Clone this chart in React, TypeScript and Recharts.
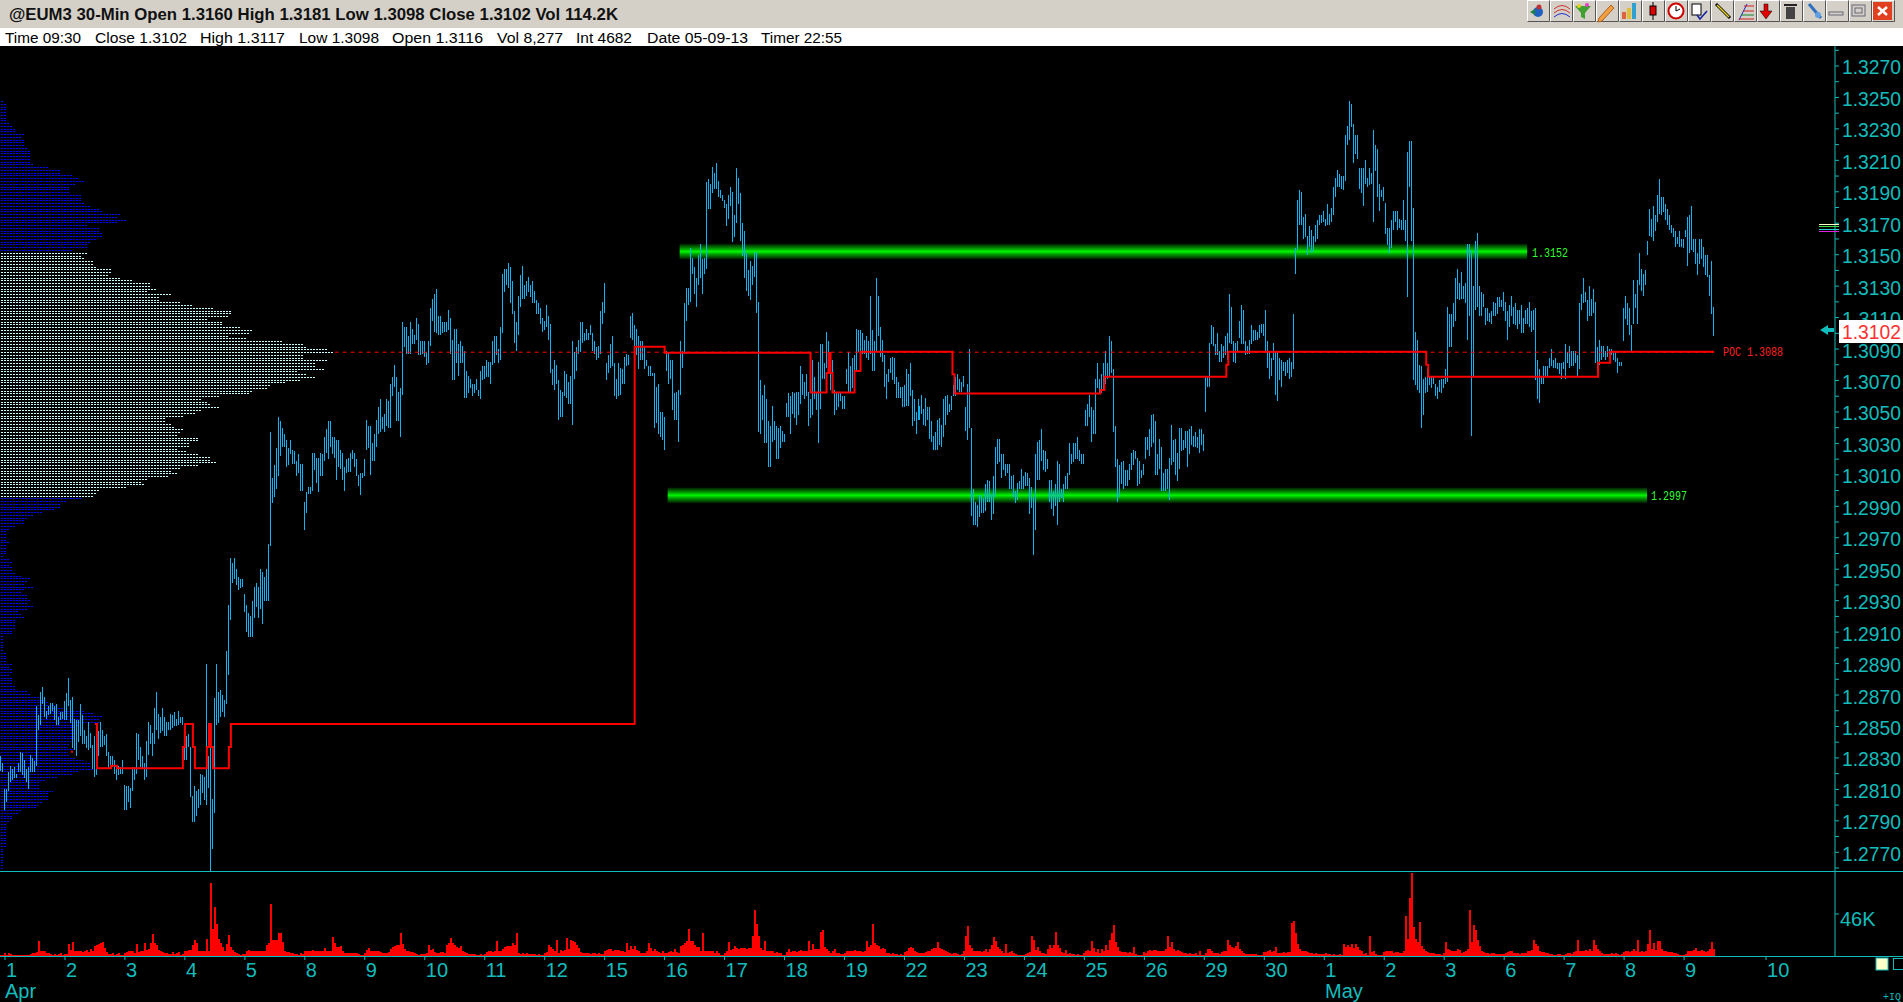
import React from 'react';
import { ComposedChart, BarChart, Bar, Line, XAxis, YAxis, ReferenceArea, ReferenceLine } from 'recharts';

// Prices are in pips above 1.0000 (3102 = 1.3102). Each segment alternates high, low per 30-min bar.
const priceSegA = [2831,2822,2827,2821,2810,2797,2810,2802,2821,2809,2825,2815,2823,2816,2824,2817,2820,2817,2827,2821,2834,2821,2833,2819,2829,2817,2823,2815,2824,2810,2832,2821,2830,2821,2828,2821,2863,2825,2857,2848,2872,2851,2875,2864,2869,2856,2860,2855,2863,2857,2865,2858,2865,2860,2863,2854,2864,2851,2856,2851,2859,2854,2859,2855,2866,2854,2871,2854,2881,2863,2867,2852,2869,2836,2855,2835,2854,2831,2854,2840,2864,2844,2857,2839,2848,2839,2844,2836,2853,2835,2846,2836,2838,2823,2844,2818,2839,2819,2847,2831,2853,2837,2848,2837,2844,2838,2845,2831,2834,2823,2831,2824,2831,2824,2829,2820,2825,2816,2825,2819,2824,2820,2829,2820,2813,2797,2812,2797,2812,2802,2811,2798,2824,2809,2824,2816,2846,2820,2845,2829,2837,2824,2831,2823,2827,2816,2841,2818,2853,2832,2851,2839,2846,2831,2862,2839,2872,2848,2858,2842,2856,2846,2862,2847,2856,2844,2853,2844,2853,2848,2858,2848,2857,2849,2859,2850,2855,2850,2860,2851,2856,2852,2856,2851,2846,2829,2844,2829,2845,2837,2837,2805,2806,2789,2812,2789,2809,2793,2810,2798,2820,2800,2819,2808,2818,2803,2890,2800,2831,2811,2844,2758,2804,2772,2868,2795,2890,2851,2872,2852,2873,2856,2870,2859,2867,2856,2898,2864,2927,2883,2957,2918,2954,2941,2957,2944,2950,2940,2945,2937,2944,2938,2944,2939,2934,2923,2927,2910,2922,2907,2920,2907,2930,2907,2939,2919,2941,2926,2939,2919];
const priceSegB = [2950,2925,2948,2915,2945,2930,2950,2930,2966,2930,3037,2965,3008,2992,3016,2996,3027,3001,3047,3009,3044,3022,3040,3028,3036,3028,3032,3015,3027,3016,3032,3023,3026,3017,3025,3017,3019,3009,3023,3011,3017,3000,3017,3000,2993,2975,2999,2986,3002,2998,3002,2998,3024,3000,3024,3013,3021,3005,3021,2999,3024,3009,3023,3009,3034,3019,3039,3024,3044,3020,3044,3028,3034,3023,3034,3021,3032,3007,3032,3015,3026,3014,3024,3007,3015,3000,3020,3011,3021,3012,3024,3012,3026,3020,3024,3015,3020,3009,3010,3003,3011,2997,3011,3008,3020,3009,3045,3026,3041,3027,3041,3010,3030,3019,3036,3019,3045,3028,3053,3036,3058,3037,3047,3039,3049,3037,3058,3041,3057,3040,3068,3040,3072,3060,3080,3066,3072,3044,3063,3044,3065,3034,3107,3061,3104,3091,3104,3087,3098,3087,3107,3087,3103,3093,3099,3093,3110,3096,3106,3086,3095,3086,3095,3087,3095,3085,3088,3080,3095,3081,3116,3092,3122,3108,3125,3101,3128,3100,3111,3099,3111,3099,3107,3100,3107,3101,3107,3101,3115,3102,3110,3087,3096,3070,3103,3070,3103,3081,3093,3073,3095,3081,3092,3081,3089,3059,3076,3059,3073,3062,3071,3065,3068,3060,3068,3062,3071,3064,3064,3060,3076,3058,3079,3070,3079,3071,3083,3072,3082,3072,3082,3068,3095,3080,3098,3081,3098,3086,3090,3081,3104,3083,3138,3100,3141,3126,3141,3131,3145,3129,3142,3119,3133,3112,3114,3094,3107,3089,3124,3099,3137,3117,3143,3122,3131,3122,3133,3124,3136,3126,3131,3123,3133,3119,3127,3119,3121,3112,3119,3112,3116,3106,3110,3101,3108,3102,3118,3104,3111,3096,3106,3075,3077,3067,3083,3064,3080,3068,3070,3045,3064,3047,3063,3047,3076,3060,3074,3059,3069,3055,3073,3055,3095,3042,3088,3071,3091,3076,3096,3087,3107,3088,3107,3094,3100,3095,3103,3096,3100,3096,3105,3099,3100,3089,3095,3087,3091,3083,3092,3084,3114,3087,3120,3106,3132,3113,3081,3070,3086,3075,3093,3078,3098,3079,3081,3060,3071,3058,3081,3060,3078,3061,3077,3068,3085,3068,3087,3079,3086,3080,3111,3097,3113,3096,3105,3084,3103,3086,3098,3077,3095,3083,3095,3083,3091,3077,3083,3079,3079,3073,3079,3073,3075,3073,3075,3040,3066,3043,3068,3036,3050,3034];
const priceSegC = [3050,3032,3047,3026,3089,3076,3088,3068,3083,3071,3083,3051,3062,3045,3063,3045,3064,3031,3095,3061,3089,3078,3119,3087,3129,3108,3129,3118,3154,3120,3148,3138,3142,3125,3135,3117,3150,3131,3157,3135,3147,3125,3148,3138,3196,3141,3198,3179,3195,3179,3206,3189,3202,3192,3208,3192,3197,3187,3191,3186,3188,3184,3185,3180,3182,3168,3188,3173,3193,3181,3190,3158,3175,3161,3205,3170,3199,3182,3189,3159,3170,3149,3165,3135,3151,3127,3140,3124,3146,3121,3143,3131,3152,3136,3151,3113,3120,3037,3070,3036,3061,3045,3067,3030,3058,3030,3044,3015,3041,3015,3054,3031,3044,3032,3041,3020,3040,3020,3041,3027,3038,3031,3036,3031,3056,3047,3062,3047,3060,3036,3063,3049,3062,3046,3063,3042,3063,3048,3079,3055,3074,3061,3069,3058,3074,3060,3063,3041,3058,3046,3083,3048,3072,3058,3063,3051,3082,3030,3093,3052,3093,3071,3081,3071,3101,3078,3095,3075,3087,3064,3083,3069,3064,3048,3062,3051,3062,3053,3063,3057,3060,3052,3060,3052,3077,3068,3088,3063,3079,3063,3084,3065,3086,3068,3103,3076,3102,3088,3102,3088,3100,3087,3096,3087,3098,3084,3095,3083,3124,3087,3102,3076,3095,3076,3135,3088,3124,3098,3104,3085,3096,3082,3086,3066,3074,3058,3077,3069,3084,3075,3085,3070,3084,3068,3072,3059,3069,3059,3066,3059,3066,3053,3067,3053,3077,3054,3074,3054,3081,3060,3064,3041,3058,3044,3050,3036,3058,3045,3054,3045,3061,3049,3052,3042,3059,3041,3053,3045,3053,3033,3044,3031,3035,3026,3037,3026,3045,3026,3046,3029,3042,3028,3058,3034,3060,3042,3061,3048,3055,3050,3060,3051,3067,3060,3072,3060,3074,3064,3071,3063,3069,3063,3073,3066,3053,3038,3068,3032,3090,3040];
const priceSegD = [3040,2984,3001,2978,2993,2978,2991,2977,2997,2983,2997,2986,2995,2986,3004,2987,3007,2993,3006,2993,2998,2981,3009,2985,3028,2996,3033,3017,3033,3018,3023,3008,3023,3013,3017,3009,3017,3011,3017,3001,3009,3001,3010,2996,3000,2992,3005,2994,3006,3001,3014,3001,3009,3001,3012,3003,3011,3003,3008,2985,3002,2989,2996,2959,3023,2975,3031,3007,3032,3007,3039,3019,3026,3013,3025,3012,3020,3014,3007,2993,3007,2988,3000,2984,3004,2990,3019,2978,3017,2993,3001,2995,3004,2993,3009,3001,3011,3001,3030,3010,3023,3017,3030,3018,3030,3020,3034,3020,3026,3019,3023,3017,3023,3017,3051,3041,3055,3041,3061,3047,3053,3031,3051,3036,3071,3036,3081,3065,3071,3062,3074,3062,3081,3064,3089,3068,3081,3071,3098,3072,3095,3075,3077,3037,3041,3015,3020,2993,3016,2996,3018,3004,3019,3001,3013,3003,3013,3003,3017,3007,3024,3013,3026,3016,3025,3020,3021,3003,3019,3004,3013,3008,3017,3010,3034,3020,3034,3026,3039,3022,3048,3028,3049,3030,3044,3010,3023,3010,3033,3014,3028,3000,3011,3000,3014,3000,3014,3001,3021,2994,3042,3016,3032,3018,3033,3010,3024,3006,3040,3014,3040,3025,3032,3026,3038,3027,3038,3015,3039,3023,3041,3029,3035,3028,3037,3028,3034,3027,3039,3024,3039,3029,3036,3025,3073,3050,3073,3066,3094,3066,3105,3093,3104,3092,3093,3086,3100,3086,3089,3082,3093,3082,3092,3084,3098,3086,3100,3083,3125,3094,3117,3093,3095,3082,3094,3081,3095,3088,3108,3097,3118,3093,3115,3093,3095,3086,3092,3087,3096,3087,3105,3093,3102,3095,3102,3096,3101,3096,3105,3097,3106,3100,3106,3098,3115,3088,3095,3078,3089,3071,3084,3073,3094,3083,3088,3061,3088,3057,3084,3070,3083,3066,3082,3076,3082,3073,3083,3075,3084,3071,3082,3072,3112,3077];
const priceSegE = [3154,3138,3185,3153,3191,3169,3190,3169,3174,3160,3176,3161,3162,3150,3168,3155,3166,3151,3162,3152,3169,3158,3172,3160,3175,3169,3175,3170,3178,3171,3173,3168,3182,3169,3176,3169,3180,3171,3193,3175,3199,3187,3204,3193,3201,3193,3200,3192,3200,3191,3226,3197,3232,3220,3248,3223,3246,3231,3233,3208,3226,3214,3226,3211,3205,3192,3205,3189,3205,3181,3210,3195,3199,3193,3205,3194,3202,3195,3229,3171,3220,3203,3217,3187,3195,3178,3191,3187,3193,3184,3183,3163,3167,3156,3167,3151,3172,3154,3178,3166,3178,3171,3178,3166,3173,3167,3172,3166,3185,3166,3172,3159,3215,3123,3222,3193,3222,3159,3180,3070,3101,3067,3096,3064,3080,3062,3079,3040,3071,3048,3072,3062,3077,3063,3072,3067,3072,3065,3073,3068,3068,3060,3066,3058,3070,3063,3071,3062,3071,3065,3077,3068,3117,3069,3112,3091,3112,3091,3119,3104,3135,3108,3141,3122,3132,3121,3139,3122,3130,3122,3132,3119,3157,3096,3157,3111,3153,3035,3130,3072,3159,3115,3164,3117,3130,3111,3126,3111,3125,3117,3116,3105,3116,3108,3113,3107,3114,3106,3120,3111,3119,3111,3123,3112,3123,3117,3121,3117,3126,3114,3120,3108,3114,3096,3118,3104,3124,3111,3117,3106,3119,3105,3115,3103,3115,3106,3118,3100,3110,3100,3115,3106,3116,3106,3120,3104,3114,3101,3115,3102,3116,3070,3083,3058,3077,3056,3073,3068,3079,3068,3079,3072,3079,3072,3084,3078,3090,3079,3083,3078,3084,3078,3081,3077,3081,3074,3081,3071,3082,3077,3093,3071,3088,3081,3092,3078,3089,3079,3089,3079,3089,3081,3086,3072,3119,3077,3125,3115,3135,3119,3126,3120,3121,3108,3130,3111,3122,3111,3128,3113,3120,3081,3091,3075,3096,3080,3092,3083,3092,3085,3089,3083,3092,3085,3090,3087,3090,3086,3088,3083,3089,3082,3084,3075,3082,3079,3082,3079,3116,3095,3124,3109,3119,3105,3116,3099,3105,3089,3134,3106,3125,3116,3134,3106,3151,3131,3141,3127,3138,3124,3140,3131,3159,3150,3179,3162,3173,3161,3181,3159,3175,3165,3188,3171,3198,3176,3187,3175,3187,3177,3182,3172,3179,3169,3175,3166,3169,3164,3167,3161,3165,3155,3161,3157];
const priceSegF = [3165,3155,3160,3155,3160,3154,3166,3161,3174,3143,3175,3151,3181,3153,3160,3152,3160,3144,3151,3137,3160,3144,3160,3147,3155,3142,3150,3137,3150,3136,3137,3124,3146,3112,3117,3098];

// Developing point of control: bar index where a level starts, and that level.
const pocStarts = [35,37,47,48,55,58,91,92,96,97,103,104,105,106,114,115,317,332,405,413,414,415,416,427,430,476,477,550,552,613,614,713,714,799,805,858];
const pocLevels = [2834,NaN,2851.5,2823.5,2825,2823.5,2837,2851.5,2837,2823.5,2837,2851.5,2837,2823.5,2837,2851.5,3091.5,3087.7,3062.3,3074.7,3087.5,3074.7,3062.3,3076,3088.3,3074,3061.8,3064,3072.4,3080,3088.3,3080,3072.4,3081.3,3088.3,NaN];

// Volume, thousands of contracts, per session
const volStart = [1,1];
const volApr01 = [3,1,3,2,1,1,1,1,1,1,1,1,1,2,3,3,4,16,5,6,5,3,3,2,1,2,1,2,3,1];
const volApr02 = [2,2,13,7,15,6,6,5,6,4,5,7,4,8,6,11,12,13,14,15,9,4,2,2,3,1,2,3,1,1];
const volApr03 = [3,4,5,6,5,3,13,4,5,6,14,7,8,14,24,14,12,7,5,4,3,3,2,2,4,2,3,4,1,2];
const volApr04 = [6,6,7,7,12,17,14,6,5,6,5,19,6,80,30,54,35,19,14,10,6,13,23,10,7,4,3,2,1,2];
const volApr05 = [2,5,7,6,6,6,6,6,6,6,6,12,14,57,18,17,17,25,25,15,6,4,4,3,3,2,2,1,3,2];
const volApr08 = [5,6,6,6,7,5,6,5,6,6,9,5,5,5,21,14,10,10,11,5,3,3,3,3,3,3,3,2,1,1];
const volApr09 = [3,7,9,6,5,5,6,5,4,3,3,3,4,8,10,11,12,12,25,13,8,6,5,4,4,3,2,1,2,2];
const volApr10 = [2,3,12,7,8,4,3,3,4,4,3,12,14,20,14,12,10,9,11,6,4,3,2,2,2,2,1,1,2,1];
const volApr11 = [2,4,6,5,4,6,16,6,5,8,10,11,11,11,14,12,25,3,2,3,2,3,2,2,2,2,1,2,1,1];
const volApr12 = [3,4,12,10,8,5,17,3,7,5,7,20,8,17,16,15,12,9,4,3,3,3,3,2,3,3,2,3,2,2];
const volApr15 = [5,7,8,8,6,7,7,7,6,5,4,14,7,11,8,11,7,5,3,3,3,5,14,9,6,8,6,4,3,5];
const volApr16 = [3,3,4,5,4,8,4,3,11,12,14,16,29,16,16,12,10,10,6,25,5,6,5,6,5,3,5,3,1,1];
const volApr17 = [3,5,15,7,8,11,9,8,9,9,9,8,9,9,22,50,35,22,9,7,16,6,5,5,5,3,4,3,3,1];
const volApr18 = [1,4,8,4,5,5,4,5,7,5,6,5,16,7,13,8,8,8,26,28,10,8,5,3,6,8,3,3,2,2];
const volApr19 = [3,5,6,5,6,7,6,5,5,4,6,16,10,12,35,14,12,11,8,9,8,3,3,2,3,2,2,1,2,1];
const volApr22 = [4,5,9,10,9,6,4,3,3,3,3,4,5,5,8,9,9,15,9,8,7,6,4,3,2,3,3,2,1,2];
const volApr23 = [5,22,33,12,9,6,5,5,5,4,6,8,4,8,12,21,16,10,8,6,3,13,3,4,6,3,2,1,1,1];
const volApr24 = [1,2,3,4,22,18,7,10,6,3,3,2,8,12,9,12,26,12,9,4,3,7,2,3,2,2,1,2,1,1];
const volApr25 = [3,5,7,6,16,9,4,8,3,8,6,12,7,18,25,34,15,10,6,4,4,4,3,4,3,10,2,1,1,1];
const volApr26 = [4,3,5,7,6,7,7,6,6,5,5,8,22,10,15,8,6,7,5,4,3,3,2,3,2,2,3,1,5,1];
const volApr29 = [1,3,8,8,6,3,3,3,2,4,5,6,18,12,10,9,11,15,8,5,3,2,2,2,2,2,2,1,1,1];
const volApr30 = [4,4,6,7,4,6,10,3,3,3,4,3,4,4,36,38,25,13,8,6,5,6,4,3,3,2,3,2,2,2];
const volMay01 = [2,3,2,2,1,2,1,1,2,1,13,10,12,10,13,9,13,10,7,5,2,3,1,22,4,5,2,1,1,1];
const volMay02 = [4,5,5,6,6,3,4,4,3,3,5,44,19,63,91,32,19,15,37,11,8,6,4,3,3,3,2,2,2,1];
const volMay03 = [3,15,8,7,6,6,6,8,7,3,4,5,8,50,15,34,28,17,11,5,4,3,3,2,3,3,2,2,2,2];
const volMay06 = [2,3,4,5,5,3,3,3,2,3,3,3,6,5,7,18,13,11,5,4,4,3,3,2,2,1,1,2,2,1];
const volMay07 = [1,2,3,3,2,4,5,17,6,6,6,7,6,8,6,18,12,8,5,3,2,2,2,2,3,2,3,2,1,2];
const volMay08 = [4,5,5,4,5,8,5,17,4,6,4,6,13,28,8,14,7,16,16,8,6,5,4,4,4,3,3,2,1,1];
const volMay09 = [1,2,6,6,6,7,9,6,5,7,5,4,5,8,15,8];

// Market profile, top to bottom
const profileUpper = [3,6,6,6,6,6,6,6,9,12,15,15,24,21,24,24,24,27,30,30,30,30,30,33,48,60,60,72,78,84,75,69,69,69,81,81,81,84,90,99,102,120,117,126,117,87,99,99,102,102,96,90,87,87,72];
const profileValueArea = [87,81,84,93,93,96,111,111,108,120,132,150,150,156,147,171,159,159,180,192,213,231,231,228,207,222,222,240,252,249,228,246,282,303,306,327,333,303,303,327,315,315,324,297,306,315,300,285,270,267,252,249,219,201,207,210,219,201,195,183,165,165,171,174,183,180,177,198,198,189,189,177,186,198,210,210,216,198,180,171,177,168,147,141,144,126,99,96,93];
const profileLower = [81,66,60,60,54,42,33,27,24,24,15,9,6,6,6,6,9,6,6,6,6,3,9,12,9,12,12,15,21,30,27,24,33,24,21,27,27,30,27,33,27,18,21,24,15,15,15,15,12,12,3,3,3,3,3,3,6,6,6,6,12,9,12,12,9,12,12,12,15,15,27,30,39,45,48,57,63,84,93,102,98,99,77,73,73,75,75,73,70,68,67,73,67,68,75,82,90,90,93,78,72,57,45,39,39,39,52,48,48,48,42,37,36,20,18,12,12,9,6,6,6,6,6,6,6,6,6,3,3,3,3,3,3,3,3];

const majorTicks = [3270,3250,3230,3210,3190,3170,3150,3130,3110,3090,3070,3050,3030,3010,2990,2970,2950,2930,2910,2890,2870,2850,2830,2810,2790,2770];
const dayLabels = ['1','2','3','4','5','8','9','10','11','12','15','16','17','18','19','22','23','24','25','26','29','30','1','2','3','6','7','8','9'];
const monthLabels = [['Apr',5],['May',1325]] as const;
const greenLevels = [{ level: 3152, from: 340, to: 763 }, { level: 2997, from: 334, to: 823 }];
const titleText = '@EUM3 30-Min Open 1.3160 High 1.3181 Low 1.3098 Close 1.3102 Vol 114.2K';
const infoItems: [string, number, number][] = [['Time 09:30',5,76],['Close 1.3102',95,92],['High 1.3117',200,85],['Low 1.3098',299,80],['Open 1.3116',392,91],['Vol 8,277',497,66],['Int 4682',576,56],['Date 05-09-13',647,101],['Timer 22:55',761,81]];

const TEAL = '#12bcbc', SANS = '"Liberation Sans", Arial, sans-serif';
const hl = [...priceSegA, ...priceSegB, ...priceSegC, ...priceSegD, ...priceSegE, ...priceSegF];
const vols = [volStart,volApr01,volApr02,volApr03,volApr04,volApr05,volApr08,volApr09,volApr10,volApr11,volApr12,volApr15,volApr16,volApr17,volApr18,volApr19,volApr22,volApr23,volApr24,volApr25,volApr26,volApr29,volApr30,volMay01,volMay02,volMay03,volMay06,volMay07,volMay08,volMay09].flat();
const SLOTS = 918;
const pocAt = (i: number) => { let v: number | null = null; pocStarts.forEach((s, k) => { if (i >= s) v = Number.isNaN(pocLevels[k]) ? null : pocLevels[k]; }); return v; };
const rows = Array.from({ length: SLOTS }, (_, i) => ({
  idx: i,
  range: 2 * i + 1 < hl.length ? [hl[2 * i + 1], hl[2 * i]] : undefined,
  poc: pocAt(i),
  vol: i < vols.length ? vols[i] : undefined,
}));
const dayTickIdx = dayLabels.map((_, k) => 2 + 30 * k).concat(883);
const dayTickText: Record<number, string> = {};
dayLabels.forEach((d, k) => { dayTickText[2 + 30 * k] = d; });
dayTickText[883] = '10';

const profile = [
  ...profileUpper.map((v) => ({ v, area: false })),
  ...profileValueArea.map((v) => ({ v, area: true })),
  ...profileLower.map((v) => ({ v, area: false })),
].map((r, i) => ({ ...r, row: i }));
const rowH = (868 - 101) / (profile.length - 1);

const OHLCShape = (p: any) => p.height == null || !p.width ? null : <rect x={Math.round(p.x)} y={p.y} width={1} height={p.height} fill="#10b4f4" shapeRendering="crispEdges" />;
const VolShape = (p: any) => !p.height ? null : <rect x={Math.round(p.x)} y={p.y} width={2} height={p.height} fill="#ff0000" shapeRendering="crispEdges" />;
const ProfileShape = (p: any) => <line x1={p.x} x2={p.x + p.width} y1={p.y + 0.5} y2={p.y + 0.5} stroke={p.payload.area ? '#c8ffff' : '#0000ff'} strokeWidth={1} strokeDasharray="2 1" shapeRendering="crispEdges" />;

const PriceTick = (p: any) => {
  const major = majorTicks.includes(p.payload.value);
  return (
    <g>
      <line x1={p.x} x2={p.x + 4} y1={p.y} y2={p.y} stroke={TEAL} />
      {major && <text x={p.x + 7} y={p.y + 8.5} fontFamily={SANS} fontSize={20} fill={TEAL} textLength={59} lengthAdjust="spacingAndGlyphs">{(1 + p.payload.value / 10000).toFixed(4)}</text>}
    </g>
  );
};
const VolTick = (p: any) => (
  <g>
    <line x1={p.x} x2={p.x + 4} y1={p.y} y2={p.y} stroke={TEAL} />
    <text x={p.x + 5} y={p.y + 12} fontFamily={SANS} fontSize={20} fill={TEAL}>{p.payload.value}K</text>
  </g>
);
const DayTick = (p: any) => (
  <g>
    <line x1={p.x} x2={p.x} y1={p.y} y2={p.y + 4} stroke={TEAL} />
    <text x={p.x + 1} y={p.y + 21} fontFamily={SANS} fontSize={20} fill={TEAL}>{dayTickText[p.payload.value]}</text>
  </g>
);

const Toolbar = () => (
  <svg width={368} height={23} style={{ position: 'absolute', left: 1527, top: 0 }}>
    {Array.from({ length: 16 }, (_, k) => (
      <g key={k} transform={`translate(${k * 23},0)`}>
        <rect x={0} y={0} width={23} height={22} fill="#d4d0c8" />
        <path d="M0.5 21.5V0.5H22.5" stroke="#fff" fill="none" />
        <path d="M0.5 21.5H22.5V0.5" stroke="#555" fill="none" />
      </g>
    ))}
    <circle cx={11} cy={12} r={5} fill="#2060c0" /><path d="M3 12l5-3v6z" fill="#208040" /><circle cx={12} cy={7} r={2.5} fill="#c03030" />
    <path d="M27 9q8-7 16 0M27 13q8-7 16 0" stroke="#d03030" fill="none" /><path d="M27 17q8-7 16 0" stroke="#2030d0" fill="none" />
    <path d="M48 6h16l-6 7v6l-4-2v-4z" fill="#40a030" /><circle cx={52} cy={6} r={2} fill="#e0d020" /><circle cx={60} cy={5} r={2} fill="#e040c0" />
    <path d="M72 18l12-13 3 3-12 13-4 1z" fill="#f0a040" stroke="#b06020" />
    <rect x={95} y={12} width={4} height={7} fill="#e06040" /><rect x={100} y={8} width={4} height={11} fill="#e0c030" /><rect x={105} y={3} width={4} height={16} fill="#30a0d0" />
    <path d="M126 2v18" stroke="#000" /><rect x={123} y={6} width={6} height={9} fill="#e00000" stroke="#000" />
    <circle cx={149} cy={11} r={7.5} fill="#fff" stroke="#d00000" strokeWidth={2} /><path d="M149 11l4-2M149 11v-5" stroke="#000" />
    <rect x={165} y={4} width={9} height={11} fill="#fff" stroke="#000" /><path d="M170 15l3 4 7-8" stroke="#1020a0" fill="none" strokeWidth={1.5} />
    <path d="M189 4l14 14" stroke="#000" strokeWidth={3} /><path d="M190 5l12 12" stroke="#e8d020" strokeWidth={1.5} />
    <path d="M212 20l8-16" stroke="#1020d0" /><path d="M217 6h10M216 11h11" stroke="#d02020" /><path d="M214 15h13" stroke="#108030" /><path d="M212 19h15" stroke="#d02020" />
    <path d="M237 4h4v7h4l-6 8-6-8h4z" fill="#e00000" stroke="#000" strokeWidth={0.5} />
    <rect x={259} y={7} width={9} height={12} fill="#444" /><rect x={257} y={4} width={13} height={2} fill="#222" />
    <path d="M282 4l12 14" stroke="#3070c0" strokeWidth={3} /><circle cx={291} cy={15} r={3} fill="#60a0e0" />
    <rect x={302} y={12} width={14} height={3} fill="none" stroke="#667" />
    <rect x={325} y={5} width={13} height={11} fill="none" stroke="#667" /><rect x={328} y={8} width={7} height={5} fill="none" stroke="#667" />
    <rect x={346} y={2} width={19} height={18} fill="#e04020" /><path d="M351 7l9 8M360 7l-9 8" stroke="#fff" strokeWidth={2.5} />
  </svg>
);

export default function App() {
  return (
    <div style={{ position: 'absolute', left: 0, top: 0, width: 1903, height: 1002, background: '#000', overflow: 'hidden' }}>
      <svg width={0} height={0} style={{ position: 'absolute' }}>
        <defs>
          <linearGradient id="greenBand" x1="0" y1="0" x2="0" y2="1">
            <stop offset="0%" stopColor="#001400" />
            <stop offset="35%" stopColor="#00a800" />
            <stop offset="50%" stopColor="#00f800" />
            <stop offset="65%" stopColor="#00a800" />
            <stop offset="100%" stopColor="#001400" />
          </linearGradient>
        </defs>
      </svg>

      <div style={{ position: 'absolute', left: 0, top: 0, width: 1903, height: 28, background: '#d4d0c8' }} />
      <div style={{ position: 'absolute', left: 0, top: 28, width: 1903, height: 18, background: '#fff' }} />
      <svg width={1500} height={46} style={{ position: 'absolute', left: 0, top: 0 }}>
        <text x={9} y={20} fontFamily={SANS} fontWeight="bold" fontSize={16} fill="#111" textLength={609} lengthAdjust="spacingAndGlyphs">{titleText}</text>
        {infoItems.map(([t, x, w]) => (
          <text key={t} x={x} y={42.5} fontFamily={SANS} fontSize={15.5} fill="#000" textLength={w} lengthAdjust="spacingAndGlyphs">{t}</text>
        ))}
      </svg>
      <Toolbar />

      <div style={{ position: 'absolute', left: 1, top: 101 - rowH / 2 }}>
        <BarChart width={1834} height={rowH * profile.length} data={profile} layout="vertical" margin={{ top: 0, right: 0, bottom: 0, left: 0 }} barCategoryGap={0}>
          <XAxis type="number" hide domain={[0, 1834]} />
          <YAxis type="category" dataKey="row" hide />
          <Bar dataKey="v" barSize={1} isAnimationActive={false} shape={ProfileShape} />
        </BarChart>
      </div>

      <div style={{ position: 'absolute', left: 0, top: 46 }}>
        <ComposedChart width={1903} height={825} data={rows} margin={{ top: 0, right: 0, bottom: 0, left: 0 }} barCategoryGap={0}>
          <XAxis dataKey="idx" type="category" hide interval={0} />
          <YAxis orientation="right" type="number" width={68} domain={[2758.1, 3282.7]} allowDataOverflow
            ticks={[...majorTicks, ...majorTicks.map((t) => t - 10), 3280]} interval={0}
            axisLine={{ stroke: TEAL }} tickLine={false} tickSize={0} tickMargin={0} tick={PriceTick} />
          {greenLevels.map((g) => (
            <ReferenceArea key={g.level} x1={g.from} x2={g.to} y1={g.level - 5} y2={g.level + 5} fill="url(#greenBand)" fillOpacity={1} stroke="none" />
          ))}
          <ReferenceLine segment={[{ x: 167, y: 3088 }, { x: 857, y: 3088 }]} stroke="#ff0000" strokeDasharray="4 4" />
          <Bar dataKey="range" barSize={1} isAnimationActive={false} shape={OHLCShape} />
          <Line dataKey="poc" type="stepAfter" stroke="#ff0000" strokeWidth={2} dot={false} isAnimationActive={false} />
        </ComposedChart>
      </div>

      <div style={{ position: 'absolute', left: 0, top: 871 }}>
        <ComposedChart width={1903} height={131} data={rows} margin={{ top: 0, right: 0, bottom: 0, left: 0 }} barCategoryGap={0}>
          <XAxis dataKey="idx" type="category" interval={0} height={46} ticks={dayTickIdx} axisLine={false} tickLine={false} tickSize={0} tickMargin={0} tick={DayTick} />
          <YAxis orientation="right" type="number" width={68} domain={[0, 93]} ticks={[46]} axisLine={{ stroke: TEAL }} tickLine={false} tickSize={0} tickMargin={0} tick={VolTick} />
          <Bar dataKey="vol" barSize={2} isAnimationActive={false} shape={VolShape} />
        </ComposedChart>
      </div>

      <svg width={1903} height={1002} style={{ position: 'absolute', left: 0, top: 0, pointerEvents: 'none' }}>
        <path d="M0 871.5H1903M0 956.5H1903" stroke={TEAL} />
        {monthLabels.map(([t, x]) => <text key={t} x={x} y={998} fontFamily={SANS} fontSize={20} fill={TEAL}>{t}</text>)}
        <text x={1723} y={356} fontFamily='"Liberation Mono", monospace' fontSize={12} fill="#ff2020" textLength={60} lengthAdjust="spacingAndGlyphs">POC 1.3088</text>
        <text x={1532} y={257} fontFamily='"Liberation Mono", monospace' fontSize={12} fill="#30ff30" textLength={36} lengthAdjust="spacingAndGlyphs">1.3152</text>
        <text x={1651} y={500} fontFamily='"Liberation Mono", monospace' fontSize={12} fill="#30ff30" textLength={36} lengthAdjust="spacingAndGlyphs">1.2997</text>
        <path d="M1819 224.5H1839" stroke="#ffffc8" /><path d="M1819 226.5H1839" stroke="#40e040" />
        <path d="M1819 229.5H1839" stroke="#20d0d0" /><path d="M1819 231.5H1839" stroke="#e020e0" />
        <path d="M1820 330l8-5v3h6v4h-6v3z" fill={TEAL} />
        <rect x={1839} y={320} width={64} height={23} fill="#fff" />
        <text x={1842} y={339} fontFamily={SANS} fontSize={20} fill="#ff3030" textLength={59} lengthAdjust="spacingAndGlyphs">1.3102</text>
        <rect x={1876} y={958} width={12} height={12} fill="#ffffc8" stroke={TEAL} />
        <rect x={1893.5} y={958.5} width={11} height={11} fill="none" stroke={TEAL} />
        <text x={1883} y={1000} fontFamily='"Liberation Mono", monospace' fontSize={10} fill={TEAL}>+IQ</text>
      </svg>
    </div>
  );
}
